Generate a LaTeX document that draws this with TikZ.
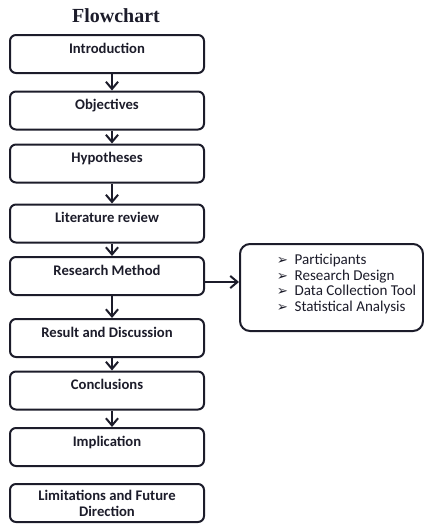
\documentclass[tikz,border=0pt]{standalone}
\usepackage{fontspec}
\setmainfont{Carlito}
\newfontfamily\titlefont{Liberation Serif}
\newfontfamily\symfont{DejaVu Sans}
\usetikzlibrary{arrows.meta,positioning,calc}
\definecolor{ink}{HTML}{1C1C2A}
\newcommand{\itemmark}{{\symfont\fontsize{10}{10}\selectfont ➢}\hspace{5pt}}

\begin{document}
\begin{tikzpicture}[x=0.75pt,y=-0.75pt,
  stage/.style={draw=ink,line width=1.5pt,rounded corners=4.5pt,
               minimum width=145.5pt,minimum height=28.5pt,inner sep=3pt,
               text height=10.7pt,text depth=11.8pt,text=ink,
               font=\fontsize{11}{12}\selectfont\bfseries},
  notes/.style={draw=ink,line width=1.5pt,rounded corners=7.5pt,
               minimum width=137.25pt,minimum height=65.25pt,inner sep=3pt,
               text height=12.5pt,text depth=46.75pt,text=ink,
               font=\fontsize{11.3}{11.6}\selectfont},
  arr/.style={-{Straight Barb[length=1.9mm,width=3.2mm]},line width=1.5pt,ink}
]
\useasboundingbox (0,0) rectangle (424,526);

\node[font=\titlefont\bfseries\fontsize{15}{18}\selectfont,text=ink] (title) at (116,16) {Flowchart};

\node[stage] (intro) at (107,54)    {Introduction};
\node[stage] (obj)   at (107,110.5) {Objectives};
\node[stage] (hyp)   at (107,163.5) {Hypotheses};
\node[stage] (lit)   at (107,223.5) {Literature review};
\node[stage] (meth)  at (107,276)   {Research Method};
\node[stage] (res)   at (107,338)   {Result and Discussion};
\node[stage] (conc)  at (107,390.5) {Conclusions};
\node[stage] (impl)  at (107,447)   {Implication};
\node[stage,text height={},text depth={},align=center,
      font=\fontsize{11}{12}\selectfont\bfseries] (lim) at (107,503)
      {Limitations and Future\\Direction};

\node[notes,anchor=north west] (parts) at (239,243)
  {\hspace*{22.5pt}\begin{tabular}[t]{@{}l@{}}
   \itemmark Participants\\
   \itemmark Research Design\\
   \itemmark Data Collection Tool\\
   \itemmark Statistical Analysis
   \end{tabular}};

\draw[arr] ([xshift=3.75pt]intro.south) -- ([xshift=3.75pt]obj.north);
\draw[arr] ([xshift=3.75pt]obj.south) -- ([xshift=3.75pt]hyp.north);
\draw[arr] ([xshift=3.75pt]hyp.south) -- ([xshift=3.75pt]lit.north);
\draw[arr] ([xshift=3.75pt]lit.south) -- ([xshift=3.75pt]meth.north);
\draw[arr] ([xshift=3.75pt]meth.south) -- ([xshift=3.75pt]res.north);
\draw[arr] ([xshift=3.75pt]res.south) -- ([xshift=3.75pt]conc.north);
\draw[arr] ([xshift=3.75pt]conc.south) -- ([xshift=3.75pt]impl.north);

\draw[arr] ([yshift=-4.5pt]meth.east) -- ([yshift=-4.5pt]meth.east -| parts.west);
\end{tikzpicture}
\end{document}
